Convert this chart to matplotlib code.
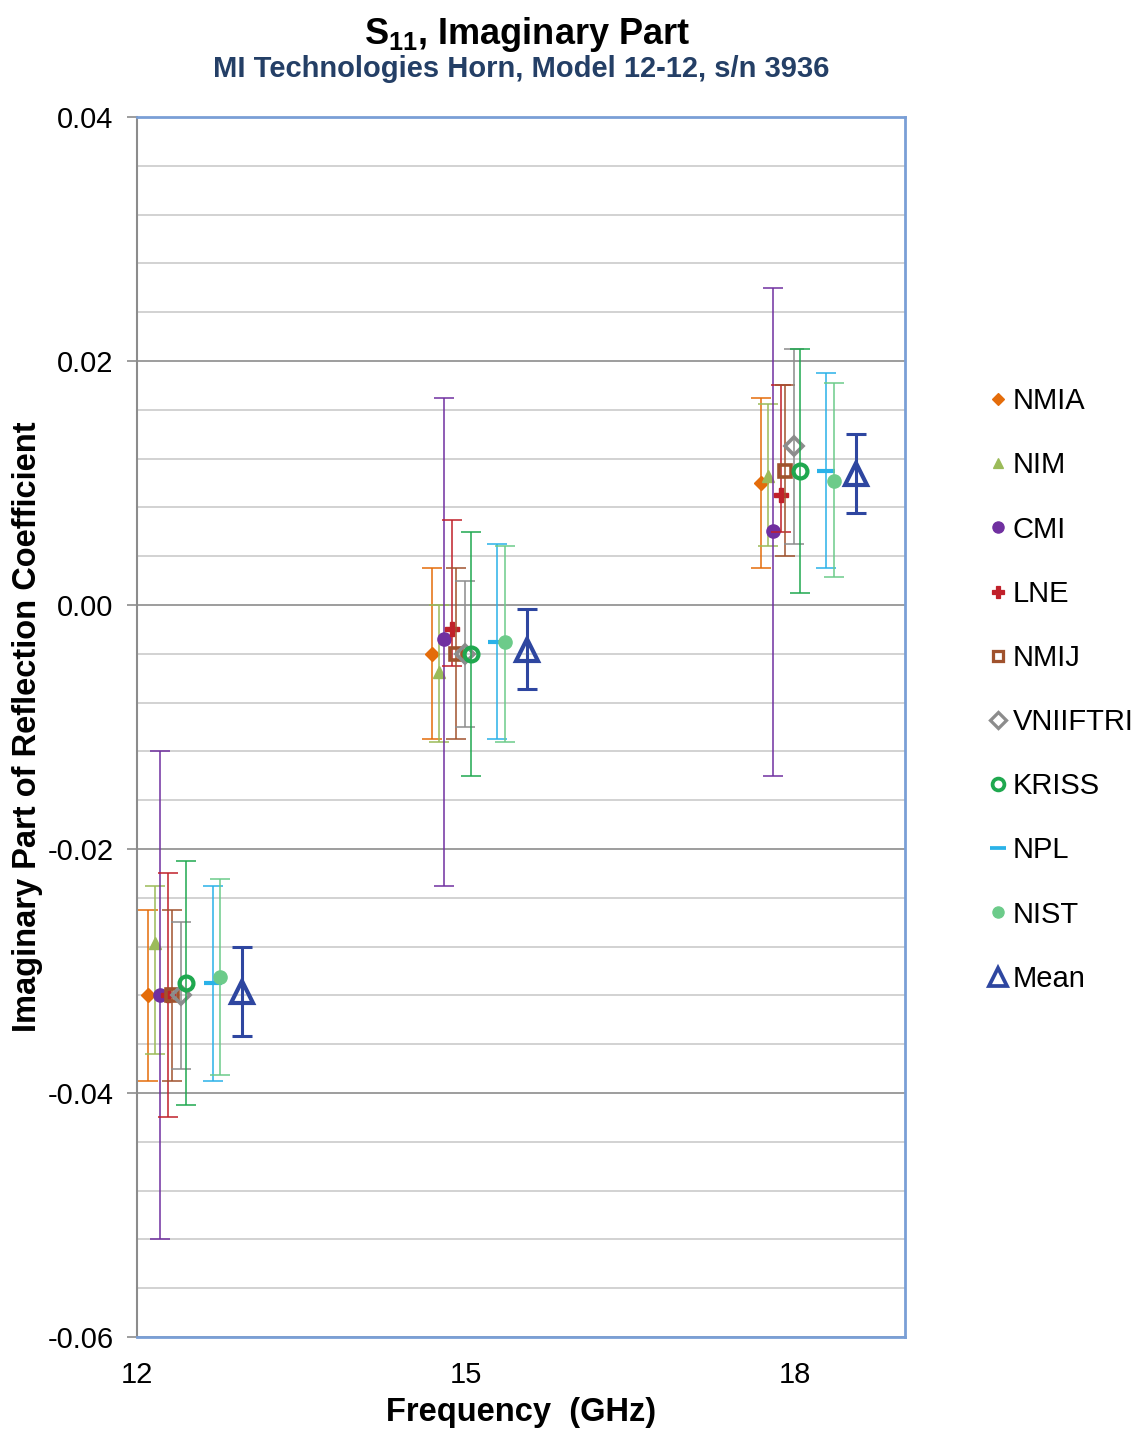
import numpy as np
import matplotlib
matplotlib.use('Agg')
import matplotlib.pyplot as plt
from matplotlib.lines import Line2D
from matplotlib.ticker import MultipleLocator, FormatStrFormatter

plt.rcParams['font.family'] = ['Liberation Sans', 'DejaVu Sans']
plt.rcParams['mathtext.fontset'] = 'custom'
plt.rcParams['mathtext.rm'] = 'Liberation Sans'
plt.rcParams['mathtext.bf'] = 'Liberation Sans:bold'
plt.rcParams['axes.unicode_minus'] = False

freqs = [12, 15, 18]
group_shift = [0.41, 0.0, 0.0]

labs = ['NMIA', 'NIM', 'CMI', 'LNE', 'NMIJ', 'VNIIFTRI', 'KRISS', 'NPL', 'NIST', 'Mean']
lab_offset = [-0.31, -0.25, -0.20, -0.13, -0.09, -0.01, 0.04, 0.28, 0.35, 0.55]

# imaginary part of S11 and the low / high ends of each uncertainty bar
values = {
    'NMIA':     [-0.0320, -0.0040, 0.0100],
    'NIM':      [-0.0277, -0.0055, 0.0106],
    'CMI':      [-0.0320, -0.0028, 0.0061],
    'LNE':      [-0.0320, -0.0020, 0.0090],
    'NMIJ':     [-0.0320, -0.0040, 0.0110],
    'VNIIFTRI': [-0.0320, -0.0040, 0.0130],
    'KRISS':    [-0.0310, -0.0040, 0.0110],
    'NPL':      [-0.0310, -0.0030, 0.0110],
    'NIST':     [-0.0305, -0.0030, 0.0102],
    'Mean':     [-0.0317, -0.0037, 0.0107],
}
lower = {
    'NMIA':     [-0.0390, -0.0110, 0.0030],
    'NIM':      [-0.0368, -0.0112, 0.0048],
    'CMI':      [-0.0520, -0.0230, -0.0140],
    'LNE':      [-0.0420, -0.0050, 0.0060],
    'NMIJ':     [-0.0390, -0.0110, 0.0040],
    'VNIIFTRI': [-0.0380, -0.0100, 0.0050],
    'KRISS':    [-0.0410, -0.0140, 0.0010],
    'NPL':      [-0.0390, -0.0110, 0.0030],
    'NIST':     [-0.0385, -0.0112, 0.0023],
    'Mean':     [-0.0353, -0.0069, 0.0075],
}
upper = {
    'NMIA':     [-0.0250, 0.0030, 0.0170],
    'NIM':      [-0.0230, 0.0000, 0.0165],
    'CMI':      [-0.0120, 0.0170, 0.0260],
    'LNE':      [-0.0220, 0.0070, 0.0180],
    'NMIJ':     [-0.0250, 0.0030, 0.0180],
    'VNIIFTRI': [-0.0260, 0.0020, 0.0210],
    'KRISS':    [-0.0210, 0.0060, 0.0210],
    'NPL':      [-0.0230, 0.0050, 0.0190],
    'NIST':     [-0.0225, 0.0048, 0.0182],
    'Mean':     [-0.0280, -0.0003, 0.0140],
}

# marker, colour, size, filled, edge width
styles = {
    'NMIA':     ('D', '#E46C0A', 7, True, 1.0),
    'NIM':      ('^', '#9BBB59', 9, True, 1.0),
    'CMI':      ('o', '#7030A0', 9.5, True, 1.0),
    'LNE':      ('P', '#C0202A', 9.5, True, 1.0),
    'NMIJ':     ('s', '#A0522D', 8, False, 2.6),
    'VNIIFTRI': ('D', '#8C8C8C', 9, False, 2.6),
    'KRISS':    ('o', '#1FA84F', 10, False, 3.0),
    'NPL':      ('_', '#2AB2E8', 13, True, 3.0),
    'NIST':     ('o', '#6CCB8A', 9.5, True, 1.0),
    'Mean':     ('^', '#2E46A0', 16, False, 3.0),
}

fig = plt.figure(figsize=(11.39, 14.33), dpi=100)
ax = fig.add_axes([0.1203, 0.0670, 0.6743, 0.8514])

for i, lab in enumerate(labs):
    mk, col, ms, filled, mew = styles[lab]
    x = np.array(freqs) + np.array(group_shift) + lab_offset[i]
    y = np.array(values[lab])
    err = [y - np.array(lower[lab]), np.array(upper[lab]) - y]
    lw = 2.2 if lab == 'Mean' else 1.1
    ax.errorbar(x, y, yerr=err, fmt='none', ecolor=col, elinewidth=lw,
                capsize=7.5 if lab == 'Mean' else 7, capthick=lw, zorder=3 + 2 * i)
    ax.plot(x, y, linestyle='none', marker=mk, markersize=ms, color=col,
            markerfacecolor=col if filled else 'none', markeredgecolor=col,
            markeredgewidth=mew, zorder=4 + 2 * i)

ax.set_xlim(12, 19)
ax.set_ylim(-0.06, 0.04)
ax.set_xticks(freqs)
ax.yaxis.set_major_locator(MultipleLocator(0.02))
ax.yaxis.set_minor_locator(MultipleLocator(0.004))
ax.yaxis.set_major_formatter(FormatStrFormatter('%.2f'))
ax.grid(True, which='minor', axis='y', color='#CBCBCB', linewidth=1.2, zorder=0)
ax.grid(True, which='major', axis='y', color='#8C8C8C', linewidth=1.2, zorder=0)
ax.set_axisbelow(True)

ax.tick_params(axis='y', which='major', direction='out', length=7, width=1.2,
               color='#8C8C8C', labelsize=21, pad=10)
ax.tick_params(axis='y', which='minor', length=0)
ax.tick_params(axis='x', length=0, labelsize=21, pad=17)

for side in ['top', 'right', 'bottom']:
    ax.spines[side].set_color('#7A9FD6')
    ax.spines[side].set_linewidth(2)
ax.spines['left'].set_color('#8C8C8C')
ax.spines['left'].set_linewidth(1.5)

ax.set_xlabel('Frequency  (GHz)', fontsize=23.5, fontweight='bold', labelpad=6)
ax.set_ylabel('Imaginary Part of Reflection Coefficient', fontsize=23.5,
              fontweight='bold', labelpad=3)

fig.text(0.463, 0.976, r'S$_{\mathbf{11}}$, Imaginary Part', ha='center', va='center',
         fontsize=26, fontweight='bold')
fig.text(0.458, 0.952, 'MI Technologies Horn, Model 12-12, s/n 3936', ha='center',
         va='center', fontsize=21, fontweight='bold', color='#243F66')

handles = []
for lab in labs:
    mk, col, ms, filled, mew = styles[lab]
    handles.append(Line2D([], [], linestyle='none', marker=mk, color=col,
                          markersize=ms * 0.85, markeredgewidth=mew * 0.9,
                          markerfacecolor=col if filled else 'none',
                          markeredgecolor=col))
fig.legend(handles, labs, loc='center left', bbox_to_anchor=(0.856, 0.5185),
           frameon=False, fontsize=21, handlelength=0.6, handletextpad=0.2,
           labelspacing=1.24, borderpad=0)

fig.savefig('out.png', dpi=100)
